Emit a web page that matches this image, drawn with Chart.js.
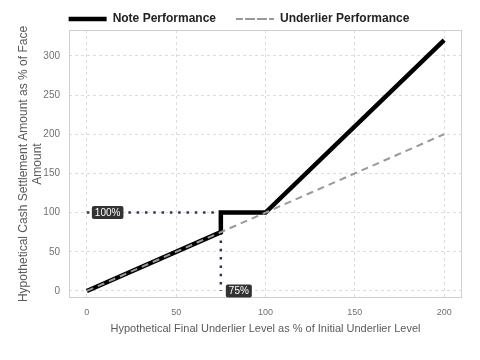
<!DOCTYPE html>
<html>
<head>
<meta charset="utf-8">
<script src="https://cdn.jsdelivr.net/npm/chart.js@4/dist/chart.umd.min.js"></script>
<style>
  html, body { margin: 0; padding: 0; background: #fff; }
  #wrap { width: 480px; height: 360px; }
</style>
</head>
<body>
<div id="wrap"><canvas id="grafico"></canvas></div>
<script>
// dados do gráfico
const notaX = [0, 75, 75, 100, 200]
const notaY = [0, 75, 100, 100, 320]
const baseX = [0, 200]
const baseY = [0, 200]
// linhas pontilhadas de referência
const refHorizX = [0, 75]
const refHorizY = [100, 100]
const refVertX = [75, 75]
const refVertY = [75, 0]
// rótulos
const rotulos = [
    { x: 0, y: 100, texto: '100%' },
    { x: 75, y: 0, texto: '75%' }
]
const xTicks = [0, 50, 100, 150, 200]
const yTicks = [0, 50, 100, 150, 200, 250, 300]

function pontos(xs, ys){
    return xs.map((x, i) => ({ x: x, y: ys[i] }))
}

const fonte = '"Liberation Sans", Arial, sans-serif'

// moldura da área do gráfico + rótulos com caixa
const extras = {
    id: 'extras',
    afterDatasetsDraw(chart){
        const ctx = chart.ctx
        const a = chart.chartArea
        ctx.save()
        ctx.strokeStyle = '#cfcfcf'
        ctx.lineWidth = 1
        ctx.strokeRect(a.left + 0.5, a.top + 0.5, a.right - a.left - 1, a.bottom - a.top - 1)

        ctx.font = '10px ' + fonte
        ctx.textBaseline = 'middle'
        rotulos.forEach(r => {
            const px = chart.scales.x.getPixelForValue(r.x)
            const py = chart.scales.y.getPixelForValue(r.y)
            const w = ctx.measureText(r.texto).width + 6
            const h = 13
            const bx = px + 5
            const by = py - h / 2
            ctx.fillStyle = '#333333'
            ctx.beginPath()
            ctx.roundRect(bx, by, w, h, 2)
            ctx.fill()
            ctx.fillStyle = '#ffffff'
            ctx.fillText(r.texto, bx + 3, py + 0.5)
        })
        ctx.restore()
    }
}

const ctx = document.getElementById('grafico').getContext('2d')
const grafico = new Chart(ctx, {
    type: 'line',
    data: {
        datasets: [
            {
                label: 'Note Performance',
                data: pontos(notaX, notaY),
                borderColor: '#000000',
                backgroundColor: '#000000',
                borderWidth: 4.5,
                pointRadius: 0,
                order: 1
            },
            {
                label: 'Underlier Performance',
                data: pontos(baseX, baseY),
                borderColor: '#999999',
                backgroundColor: '#999999',
                borderWidth: 2,
                borderDash: [7, 5],
                pointRadius: 0,
                order: 0
            },
            {
                label: 'ref1',
                data: pontos(refHorizX, refHorizY),
                borderColor: '#2b3a4f',
                borderWidth: 2.5,
                borderDash: [2.5, 5.8],
                pointRadius: 0,
                order: 2
            },
            {
                label: 'ref2',
                data: pontos(refVertX, refVertY),
                borderColor: '#2b3a4f',
                borderWidth: 2.5,
                borderDash: [2.5, 5.8],
                pointRadius: 0,
                order: 2
            }
        ]
    },
    options: {
        responsive: true,
        maintainAspectRatio: false,
        animation: false,
        layout: {
            padding: { left: 16, right: 18, top: -7, bottom: 24 }
        },
        plugins: {
            legend: {
                position: 'top',
                align: 'center',
                maxHeight: 37,
                labels: {
                    filter: item => item.datasetIndex < 2,
                    sort: (a, b) => a.datasetIndex - b.datasetIndex,
                    boxWidth: 38,
                    boxHeight: 0,
                    color: '#222222',
                    padding: 20,
                    font: { size: 12, weight: 'bold', family: fonte }
                }
            },
            tooltip: { enabled: false }
        },
        scales: {
            x: {
                type: 'linear',
                min: -10,
                max: 210,
                afterBuildTicks: axis => { axis.ticks = xTicks.map(v => ({ value: v })) },
                grid: { color: '#dddddd', drawTicks: false },
                border: { display: false, dash: [3, 3] },
                ticks: {
                    color: '#707070',
                    padding: 9,
                    font: { size: 9, family: fonte }
                },
                title: {
                    display: true,
                    text: 'Hypothetical Final Underlier Level as % of Initial Underlier Level',
                    color: '#5a5a5a',
                    padding: { top: -4, bottom: 0 },
                    font: { size: 11, family: fonte }
                }
            },
            y: {
                type: 'linear',
                min: -9,
                max: 333,
                afterBuildTicks: axis => { axis.ticks = yTicks.map(v => ({ value: v })) },
                afterFit: axis => { axis.width = 53 },
                grid: { color: '#dddddd', drawTicks: false },
                border: { display: false, dash: [3, 3] },
                ticks: {
                    color: '#707070',
                    padding: 9,
                    font: { size: 10, family: fonte }
                },
                title: {
                    display: true,
                    text: ['Hypothetical Cash Settlement Amount as % of Face', 'Amount'],
                    color: '#5a5a5a',
                    padding: { top: 0, bottom: 0 },
                    font: { size: 12, family: fonte }
                }
            }
        }
    },
    plugins: [extras]
})
</script>
</body>
</html>
